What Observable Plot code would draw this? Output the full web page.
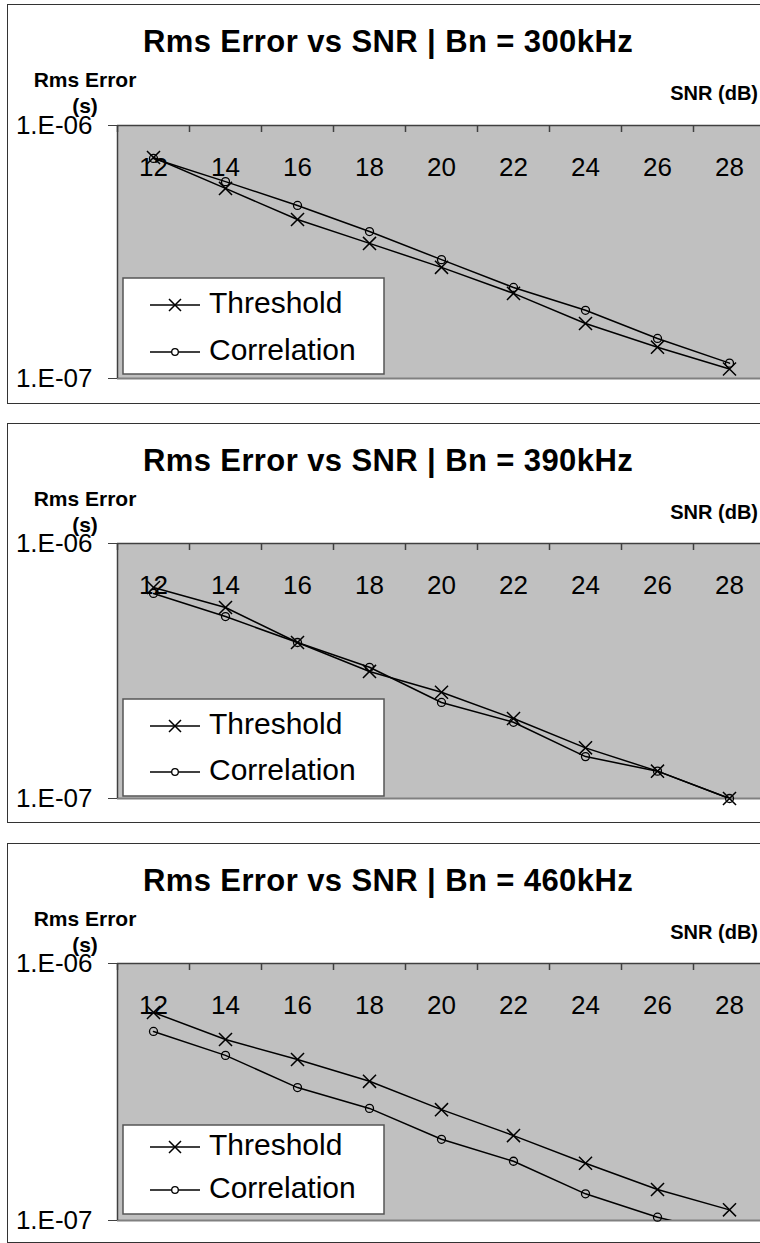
<!DOCTYPE html>
<html><head><meta charset="utf-8">
<script src="https://cdn.jsdelivr.net/npm/d3@7"></script>
<script src="https://cdn.jsdelivr.net/npm/@observablehq/plot@0.6"></script>
<style>
body{margin:0;background:#fff;font-family:"Liberation Sans",Arial,sans-serif;}
#page{position:relative;width:760px;height:1243px;overflow:hidden;background:#fff;}
.panel{position:absolute;left:7px;width:800px;height:400px;border:1.5px solid #333;box-sizing:border-box;}
.txt{position:absolute;line-height:1;white-space:nowrap;color:#000;}
.title{left:8px;width:760px;text-align:center;font-weight:bold;font-size:31px;letter-spacing:0.4px;}
.ylab{left:25px;width:120px;text-align:center;font-weight:bold;font-size:21px;}
.xlab{right:2px;text-align:right;font-weight:bold;font-size:20px;}
.chart{position:absolute;left:0;max-width:none !important;}
.legend{position:absolute;left:123px;}
</style>
</head><body><div id="page"></div>
<script>
const snr = [12, 14, 16, 18, 20, 22, 24, 26, 28];
const bounds = [11, 13, 15, 17, 19, 21, 23, 25, 27, 29];
const yTicks = [1e-6, 1e-7];
const yTickLabels = ["1.E-06", "1.E-07"];
const seriesNames = ["Threshold", "Correlation"];
const bandwidths = ["300kHz", "390kHz", "460kHz"];

const threshold300   = [7.47e-7, 5.64e-7, 4.25e-7, 3.42e-7, 2.75e-7, 2.17e-7, 1.65e-7, 1.33e-7, 1.09e-7];
const correlation300 = [7.41e-7, 6.00e-7, 4.83e-7, 3.81e-7, 2.95e-7, 2.29e-7, 1.86e-7, 1.44e-7, 1.15e-7];
const threshold390   = [6.72e-7, 5.61e-7, 4.09e-7, 3.15e-7, 2.61e-7, 2.06e-7, 1.58e-7, 1.28e-7, 1.00e-7];
const correlation390 = [6.37e-7, 5.17e-7, 4.09e-7, 3.27e-7, 2.38e-7, 1.99e-7, 1.46e-7, 1.28e-7, 1.00e-7];
const threshold460   = [6.45e-7, 5.06e-7, 4.23e-7, 3.48e-7, 2.70e-7, 2.14e-7, 1.67e-7, 1.32e-7, 1.10e-7];
const correlation460 = [5.44e-7, 4.39e-7, 3.29e-7, 2.73e-7, 2.07e-7, 1.70e-7, 1.27e-7, 1.03e-7, 0.88e-7];

const seriesData = [
  [threshold300, correlation300],
  [threshold390, correlation390],
  [threshold460, correlation460]
];

// layout per panel
const layout = [
  {off: 0,   frameTop: 125, h: 253, legTop: 153, legH: 97, r1: 27, r2: 74},
  {off: 419, frameTop: 543, h: 255, legTop: 156, legH: 98, r1: 27, r2: 73},
  {off: 839, frameTop: 963, h: 257, legTop: 162, legH: 90, r1: 22, r2: 65}
];

const page = document.getElementById("page");
const font = '"Liberation Sans", Arial, sans-serif';

function addText(cls, text, top) {
  const d = document.createElement("div");
  d.className = "txt " + cls;
  d.textContent = text;
  d.style.top = top + "px";
  page.appendChild(d);
  return d;
}

layout.forEach((L, k) => {
  const panel = document.createElement("div");
  panel.className = "panel";
  panel.style.top = (4 + L.off) + "px";
  page.appendChild(panel);

  addText("title", "Rms Error vs SNR | Bn = " + bandwidths[k], L.off + 52 - 0.8465 * 31);
  addText("ylab", "Rms Error", L.off + 87 - 0.8465 * 21);
  addText("ylab", "(s)", L.off + 113 - 0.8465 * 21);
  addText("xlab", "SNR (dB)", L.off + 100 - 0.8465 * 20);

  const [thr, cor] = seriesData[k];
  const rows = [];
  snr.forEach((s, i) => rows.push({snr: s, series: seriesNames[0], v: thr[i]}));
  snr.forEach((s, i) => rows.push({snr: s, series: seriesNames[1], v: cor[i]}));

  const chart = Plot.plot({
    width: 780,
    height: 40 + L.h + 20,
    marginTop: 40, marginBottom: 20, marginLeft: 117, marginRight: 15,
    style: {background: "transparent", overflow: "visible", fontFamily: font, color: "#000", maxWidth: "none"},
    x: {type: "linear", domain: [11, 29], axis: null},
    y: {type: "log", domain: [1e-7, 1e-6], axis: null},
    marks: [
      Plot.frame({fill: "#c0c0c0", stroke: "none"}),
      Plot.ruleY([1e-7], {stroke: "#808080", strokeWidth: 2}),
      Plot.ruleY([1e-6], {stroke: "#404040", strokeWidth: 1.5}),
      Plot.ruleX([11], {stroke: "#404040", strokeWidth: 1.5}),
      Plot.ruleX(bounds, {x: d => d, y1: 1e-6, y2: 1e-6, insetBottom: -7, stroke: "#404040", strokeWidth: 1.5}),
      Plot.axisY({ticks: yTicks, tickFormat: d => yTickLabels[yTicks.indexOf(d)], tickSize: 9, tickPadding: 16, fontSize: 26, stroke: "#404040", fill: "#000", label: null}),
      Plot.text(snr, {x: d => d, text: d => String(d), frameAnchor: "top", dy: 32, fontSize: 26, fill: "#000"}),
      Plot.line(rows, {x: "snr", y: "v", z: "series", stroke: "#000", strokeWidth: 1.5, clip: true}),
      Plot.dot(rows.filter(d => d.series === "Threshold" && d.v >= 1e-7), {x: "snr", y: "v", symbol: "times", r: 6, stroke: "#000", strokeWidth: 1.5}),
      Plot.dot(rows.filter(d => d.series === "Correlation" && d.v >= 1e-7), {x: "snr", y: "v", symbol: "circle", r: 4, stroke: "#000", fill: "none", strokeWidth: 1.3})
    ]
  });
  chart.classList.add("chart");
  chart.style.maxWidth = "none";
  chart.style.top = (L.frameTop - 40) + "px";
  page.appendChild(chart);

  // legend
  const ns = "http://www.w3.org/2000/svg";
  const lg = document.createElementNS(ns, "svg");
  lg.setAttribute("class", "legend");
  lg.setAttribute("width", 264);
  lg.setAttribute("height", L.legH + 2);
  lg.style.top = (L.frameTop + L.legTop - 1) + "px";
  lg.style.left = "122px";
  const sel = d3.select(lg);
  sel.append("rect").attr("x", 1).attr("y", 1).attr("width", 261).attr("height", L.legH - 1)
    .attr("fill", "#fff").attr("stroke", "#555").attr("stroke-width", 1.5);
  const rowsY = [L.r1 + 1, L.r2 + 1];
  seriesNames.forEach((name, i) => {
    const y = rowsY[i];
    sel.append("line").attr("x1", 28).attr("x2", 78).attr("y1", y).attr("y2", y).attr("stroke", "#000").attr("stroke-width", 1.5);
    if (i === 0) {
      const s = 6;
      sel.append("path").attr("d", `M${53 - s},${y - s}L${53 + s},${y + s}M${53 - s},${y + s}L${53 + s},${y - s}`)
        .attr("stroke", "#000").attr("stroke-width", 1.5);
    } else {
      sel.append("circle").attr("cx", 53).attr("cy", y).attr("r", 3.3).attr("fill", "#fff").attr("stroke", "#000").attr("stroke-width", 1.3);
    }
    sel.append("text").attr("x", 87).attr("y", y + 8).attr("font-size", 30).attr("font-family", font).attr("fill", "#000").text(name);
  });
  page.appendChild(lg);
});
</script>
</body></html>
